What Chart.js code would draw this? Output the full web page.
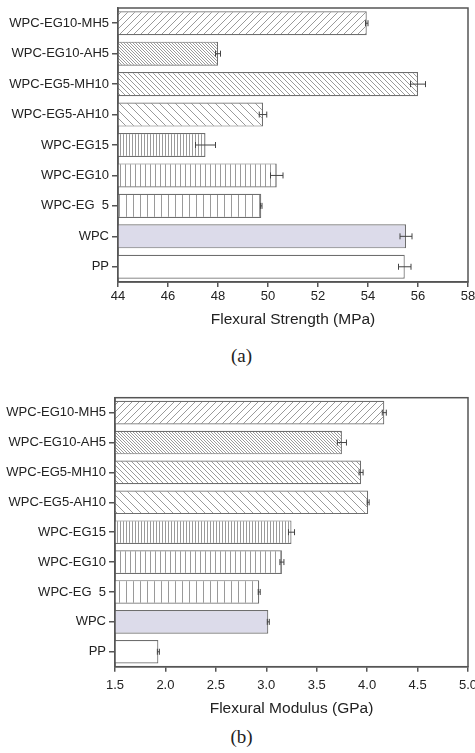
<!DOCTYPE html>
<html>
<head>
<meta charset="utf-8">
<script src="https://cdn.jsdelivr.net/npm/chart.js@4.4.0/dist/chart.umd.min.js"></script>
<style>
  html, body { margin: 0; padding: 0; background: #fff; }
  body { width: 475px; height: 753px; position: relative; overflow: hidden; }
  .caja { position: absolute; left: 0; width: 475px; }
  .rotulo { position: absolute; width: 475px; left: 0; text-align: center; font-family: "Liberation Serif", "DejaVu Serif", serif; font-size: 19px; color: #222; }
</style>
</head>
<body>
<div class="caja" style="top:0; height:340px;"><canvas id="graficaA"></canvas></div>
<div class="rotulo" style="top:345px; left:4px;">(a)</div>
<div class="caja" style="top:380px; height:345px;"><canvas id="graficaB"></canvas></div>
<div class="rotulo" style="top:726px; left:4px;">(b)</div>

<script>
const categorias = ['WPC-EG10-MH5', 'WPC-EG10-AH5', 'WPC-EG5-MH10', 'WPC-EG5-AH10',
                    'WPC-EG15', 'WPC-EG10', 'WPC-EG  5', 'WPC', 'PP'];

const resistencia = [53.95, 48.0, 56.0, 49.8, 47.5, 50.35, 49.73, 55.52, 55.47];
const errResistencia = [0.05, 0.1, 0.3, 0.15, 0.4, 0.25, 0.03, 0.24, 0.25];

const modulo = [4.17, 3.75, 3.94, 4.01, 3.25, 3.155, 2.93, 3.02, 1.93];
const errModulo = [0.02, 0.045, 0.02, 0.01, 0.03, 0.02, 0.01, 0.01, 0.01];

// tipo de relleno de cada barra: [tipo, separacion]
const rellenos = [['/', 7], ['\\', 3], ['\\', 5], ['\\', 8], ['|', 3], ['|', 5], ['|', 7], ['solido', 0], ['blanco', 0]];

function crearPatron(tipo, s) {
    if (tipo === 'solido') return '#dcdbea';
    if (tipo === 'blanco') return '#ffffff';
    const c = document.createElement('canvas');
    c.width = s; c.height = s;
    const g = c.getContext('2d');
    g.fillStyle = '#fff';
    g.fillRect(0, 0, s, s);
    g.strokeStyle = '#9a9a9a';
    g.lineWidth = 1;
    g.beginPath();
    if (tipo === '|') {
        g.moveTo(0.5, 0); g.lineTo(0.5, s);
    } else if (tipo === '/') {
        g.moveTo(-1, s + 1); g.lineTo(s + 1, -1);
        g.moveTo(-1, 1); g.lineTo(1, -1);
        g.moveTo(s - 1, s + 1); g.lineTo(s + 1, s - 1);
    } else {
        g.moveTo(-1, -1); g.lineTo(s + 1, s + 1);
        g.moveTo(s - 1, -1); g.lineTo(s + 1, 1);
        g.moveTo(-1, s - 1); g.lineTo(1, s + 1);
    }
    g.stroke();
    return document.createElement('canvas').getContext('2d').createPattern(c, 'repeat');
}

const barrasError = {
    id: 'barrasError',
    afterDatasetsDraw(chart, args, opts) {
        const ctx = chart.ctx;
        const x = chart.scales.x;
        const meta = chart.getDatasetMeta(0);
        const datos = chart.data.datasets[0].data;
        ctx.save();
        ctx.strokeStyle = '#444';
        ctx.lineWidth = 1;
        meta.data.forEach((bar, i) => {
            const e = opts.errores[i];
            const x1 = x.getPixelForValue(datos[i] - e);
            const x2 = x.getPixelForValue(datos[i] + e);
            const y = bar.y;
            ctx.beginPath();
            ctx.moveTo(x1, y); ctx.lineTo(x2, y);
            ctx.moveTo(x1, y - 3); ctx.lineTo(x1, y + 3);
            ctx.moveTo(x2, y - 3); ctx.lineTo(x2, y + 3);
            ctx.stroke();
        });
        ctx.restore();
    }
};

const marco = {
    id: 'marco',
    afterDraw(chart) {
        const a = chart.chartArea;
        const ctx = chart.ctx;
        ctx.save();
        ctx.strokeStyle = '#555';
        ctx.lineWidth = 1.5;
        ctx.strokeRect(a.left, a.top, a.right - a.left, a.bottom - a.top);
        ctx.restore();
    }
};

function dibujar(id, valores, errores, min, max, paso, titulo, g) {
    const canvas = document.getElementById(id);
    canvas.style.width = '475px';
    canvas.style.height = g.alto + 'px';
    const ctx = canvas.getContext('2d');

    return new Chart(ctx, {
        type: 'bar',
        data: {
            labels: categorias,
            datasets: [{
                data: valores,
                backgroundColor: rellenos.map(r => crearPatron(r[0], r[1])),
                borderColor: '#6e6e6e',
                borderWidth: 1.2,
                borderSkipped: false,
                barPercentage: 0.79,
                categoryPercentage: 1
            }]
        },
        plugins: [barrasError, marco],
        options: {
            indexAxis: 'y',
            responsive: true,
            maintainAspectRatio: false,
            animation: false,
            layout: { padding: { left: 0, right: 7, top: g.arriba, bottom: 0 } },
            plugins: {
                legend: { display: false },
                tooltip: { enabled: false },
                barrasError: { errores }
            },
            scales: {
                x: {
                    min, max,
                    ticks: {
                        stepSize: paso,
                        padding: g.padTick,
                        color: '#222',
                        font: { family: 'Liberation Sans', size: 13 },
                        callback: v => paso < 1 ? v.toFixed(1) : v
                    },
                    grid: { drawOnChartArea: false, tickLength: 5, color: '#555', lineWidth: 1.5 },
                    border: { color: '#555', width: 1.5 },
                    title: {
                        display: true,
                        text: titulo,
                        color: '#222',
                        padding: { top: 0, bottom: g.padTitulo },
                        font: { family: 'Liberation Sans', size: 15.5 }
                    },
                    afterFit: s => {
                        s.height = g.ejeX;
                        s.paddingLeft = 0;
                        s.paddingRight = 0;
                    }
                },
                y: {
                    ticks: {
                        padding: 3,
                        color: '#222',
                        font: { family: 'Liberation Sans', size: 13 }
                    },
                    grid: { drawOnChartArea: false, offset: false, tickLength: 6, color: '#555', lineWidth: 1.5 },
                    border: { color: '#555', width: 1.5 },
                    afterFit: s => {
                        s.width = g.ejeY;
                        s.paddingTop = 0;
                        s.paddingBottom = 0;
                    }
                }
            }
        }
    });
}

dibujar('graficaA', resistencia, errResistencia, 44, 58, 2, 'Flexural Strength (MPa)',
    { alto: 340, arriba: 8, ejeX: 58, ejeY: 118, padTick: 2, padTitulo: 10.5 });
dibujar('graficaB', modulo, errModulo, 1.5, 5.0, 0.5, 'Flexural Modulus (GPa)',
    { alto: 345, arriba: 17.7, ejeX: 58.3, ejeY: 115, padTick: 6, padTitulo: 7.4 });
</script>
</body>
</html>
